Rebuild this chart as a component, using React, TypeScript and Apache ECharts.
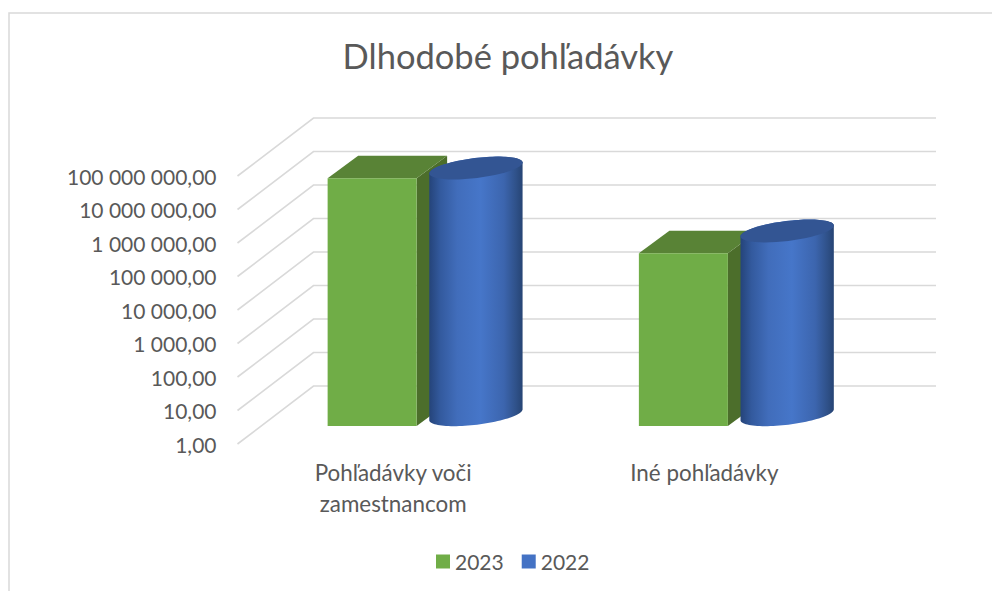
import React, { useEffect, useRef } from "react";
import * as echarts from "echarts";

const categories = ["Pohľadávky voči\nzamestnancom", "Iné pohľadávky"];
const values2023 = [24800000, 143000];
const values2022 = [23100000, 305000];
const yTicks = [1, 10, 100, 1000, 10000, 100000, 1000000, 10000000, 100000000];
const titleText = "Dlhodobé pohľadávky";

const TEXT = "#595959";
const FONT = "Lato, 'Open Sans', sans-serif";
const GRID_LINE = "#d9d9d9";
const DEPTH_X = 76;
const DEPTH_Y = 58;
const NEAR = 18 / 58; // fraction of the floor depth at which the bars start
const BAR_DX = 30.5;
const BAR_DY = 22.6;

function formatTick(v: number) {
  return String(Math.round(v)).replace(/\B(?=(\d{3})+$)/g, " ") + ",00";
}

function renderGridLine(params: any, api: any) {
  const cs = params.coordSys;
  const y = api.coord([0, api.value(1)])[1];
  return {
    type: "polyline",
    silent: true,
    shape: {
      points: [
        [cs.x, y],
        [cs.x + DEPTH_X, y - DEPTH_Y],
        [cs.x + cs.width + DEPTH_X, y - DEPTH_Y],
      ],
    },
    style: { stroke: GRID_LINE, lineWidth: 1.6, fill: "none" },
  };
}

function renderBox(_: any, api: any) {
  const [cx, topY] = api.coord([api.value(0), api.value(1)]);
  const [, baseY] = api.coord([api.value(0), 1]);
  const x0 = cx - 65.5;
  const w = 89;
  const yT = topY - NEAR * DEPTH_Y;
  const yB = baseY - NEAR * DEPTH_Y;
  const x1 = x0 + w;
  return {
    type: "group",
    children: [
      {
        type: "polygon",
        shape: { points: [[x1, yT], [x1 + BAR_DX, yT - BAR_DY], [x1 + BAR_DX, yB - BAR_DY], [x1, yB]] },
        style: { fill: "#4c6e2b" },
      },
      {
        type: "polygon",
        shape: { points: [[x0, yT], [x0 + BAR_DX, yT - BAR_DY], [x1 + BAR_DX, yT - BAR_DY], [x1, yT]] },
        style: { fill: "#598336" },
      },
      {
        type: "rect",
        shape: { x: x0, y: yT, width: w, height: yB - yT },
        style: { fill: "#70ad47" },
      },
    ],
  };
}

function ellipsePts(cx: number, cy: number, a: number, b: number, tilt: number, from: number, to: number) {
  const pts: number[][] = [];
  const n = 48;
  for (let i = 0; i <= n; i++) {
    const t = from + ((to - from) * i) / n;
    const ex = a * Math.cos(t);
    const ey = b * Math.sin(t);
    pts.push([cx + ex * Math.cos(tilt) + ey * Math.sin(tilt), cy - ex * Math.sin(tilt) + ey * Math.cos(tilt)]);
  }
  return pts;
}

function renderCylinder(_: any, api: any) {
  const [cx, topY] = api.coord([api.value(0), api.value(1)]);
  const [, baseY] = api.coord([api.value(0), 1]);
  const off = NEAR * DEPTH_Y + BAR_DY / 2;
  const c = cx + 82.8;
  const a = 47;
  const b = 10;
  const tilt = (7 * Math.PI) / 180;
  const yT = topY - off;
  const yB = baseY - off;
  const body = [
    ...ellipsePts(c, yB, a, b, tilt, 0, Math.PI),
    ...ellipsePts(c, yT, a, b, tilt, Math.PI, 2 * Math.PI),
  ];
  return {
    type: "group",
    children: [
      {
        type: "polygon",
        shape: { points: body },
        style: {
          fill: new echarts.graphic.LinearGradient(0, 0, 1, 0, [
            { offset: 0, color: "#25447a" },
            { offset: 0.12, color: "#335a9e" },
            { offset: 0.3, color: "#416dbb" },
            { offset: 0.55, color: "#4676c9" },
            { offset: 0.8, color: "#3c65ae" },
            { offset: 0.93, color: "#2f5189" },
            { offset: 1, color: "#264474" },
          ]),
        },
      },
      {
        type: "polygon",
        shape: { points: ellipsePts(c, yT, a, b, tilt, 0, 2 * Math.PI) },
        style: { fill: "#335593" },
      },
    ],
  };
}

export default function App() {
  const ref = useRef<HTMLDivElement>(null);
  useEffect(() => {
    const chart = echarts.init(ref.current!, undefined, { renderer: "svg" });
    chart.setOption({
      animation: false,
      backgroundColor: "#ffffff",
      textStyle: { fontFamily: FONT },
      title: {
        text: titleText,
        left: 503,
        top: 33,
        textAlign: "center",
        textStyle: { color: TEXT, fontSize: 34.5, fontWeight: "normal", fontFamily: FONT },
      },
      legend: {
        data: ["2023", "2022"],
        left: 431,
        top: 546,
        icon: "rect",
        itemWidth: 14,
        itemHeight: 14,
        itemGap: 18,
        textStyle: { color: TEXT, fontSize: 21, fontFamily: FONT },
      },
      graphic: [
        {
          type: "rect",
          silent: true,
          z: -10,
          shape: { x: 9, y: 13, width: 1100, height: 700 },
          style: { fill: "none", stroke: GRID_LINE, lineWidth: 1.5 },
        },
      ],
      grid: { left: 237.5, top: 176, right: 132, bottom: 147 },
      xAxis: {
        type: "category",
        data: categories,
        axisLine: { show: false },
        axisTick: { show: false },
        axisLabel: { color: TEXT, fontSize: 22.4, fontFamily: FONT, lineHeight: 31, margin: 13, interval: 0 },
      },
      yAxis: {
        type: "log",
        logBase: 10,
        min: yTicks[0],
        max: yTicks[yTicks.length - 1],
        axisLine: { show: false },
        axisTick: { show: false },
        splitLine: { show: false },
        minorSplitLine: { show: false },
        axisLabel: { color: TEXT, fontSize: 21, fontFamily: FONT, margin: 21, formatter: (v: number) => formatTick(v) },
      },
      series: [
        {
          name: "grid",
          type: "custom",
          silent: true,
          z: 1,
          renderItem: renderGridLine,
          encode: { x: 0, y: 1 },
          data: yTicks.map((v) => [0, v]),
        },
        {
          name: "2023",
          type: "custom",
          z: 2,
          itemStyle: { color: "#70ad47" },
          renderItem: renderBox,
          encode: { x: 0, y: 1 },
          data: values2023.map((v, i) => [i, v]),
        },
        {
          name: "2022",
          type: "custom",
          z: 3,
          itemStyle: { color: "#4472c4" },
          renderItem: renderCylinder,
          encode: { x: 0, y: 1 },
          data: values2022.map((v, i) => [i, v]),
        },
      ],
    });
    return () => chart.dispose();
  }, []);
  return <div ref={ref} style={{ position: "fixed", left: 0, top: 0, width: 992, height: 591 }} />;
}
